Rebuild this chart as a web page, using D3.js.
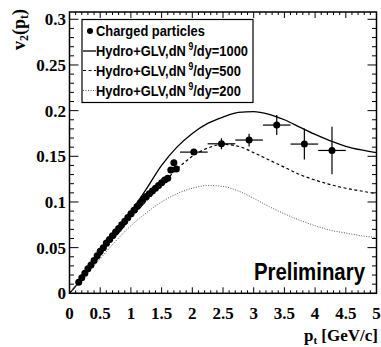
<!DOCTYPE html>
<html><head><meta charset="utf-8">
<script src="https://cdn.jsdelivr.net/npm/d3@7"></script>
<style>body{margin:0;background:#fff}svg{display:block}</style>
</head><body>
<script>
// ---- data ----
const lowPt = [0.15,0.2,0.25,0.3,0.35,0.4,0.45,0.5,0.55,0.6,0.65,0.7,0.75,0.8,0.85,0.9,0.95,1.0,1.05,1.1,1.15,1.2,1.25,1.3,1.35,1.4,1.45,1.5,1.55,1.6,1.65,1.7,1.74];
const lowV2 = [0.012,0.017,0.022,0.027,0.031,0.036,0.041,0.046,0.050,0.055,0.059,0.063,0.067,0.071,0.075,0.079,0.083,0.087,0.091,0.095,0.099,0.103,0.106,0.109,0.112,0.115,0.118,0.121,0.124,0.126,0.135,0.143,0.136];
const hiPt = [2.025,2.475,2.925,3.375,3.825,4.275];
const hiV2 = [0.1546,0.1637,0.1678,0.1842,0.1634,0.1564];
const hiXerr = [0.225,0.225,0.225,0.225,0.225,0.225];
const hiYerr = [0.003,0.006,0.007,0.011,0.017,0.026];
const curvePt = [0,0.25,0.5,0.75,1.0,1.25,1.5,1.75,2.0,2.25,2.5,2.75,3.0,3.25,3.5,3.75,4.0,4.25,4.5,4.75,5.0];
const v2_1000 = [0,0.020,0.042,0.065,0.089,0.114,0.140,0.160,0.175,0.186,0.193,0.198,0.199,0.196,0.190,0.182,0.174,0.167,0.161,0.157,0.154];
const v2_500  = [0,0.020,0.041,0.062,0.082,0.101,0.119,0.136,0.150,0.159,0.163,0.161,0.154,0.146,0.138,0.130,0.124,0.119,0.115,0.112,0.109];
const v2_200  = [0,0.019,0.038,0.057,0.074,0.088,0.100,0.109,0.115,0.118,0.117,0.112,0.104,0.095,0.087,0.080,0.074,0.069,0.066,0.063,0.061];
const xTicks = [0,0.5,1,1.5,2,2.5,3,3.5,4,4.5,5];
const xTickLabels = ["0","0.5","1","1.5","2","2.5","3","3.5","4","4.5","5"];
const yTicks = [0,0.05,0.1,0.15,0.2,0.25,0.3];
const yTickLabels = ["0","0.05","0.1","0.15","0.2","0.25","0.3"];
const legendLabels = ["Charged particles","Hydro+GLV,dN","Hydro+GLV,dN","Hydro+GLV,dN"];
const legendSuffix = ["","/dy=1000","/dy=500","/dy=200"];

// ---- layout ----
const W = 381, H = 347;
const L = 69.5, R = 376.5, T = 12, B = 293.3;
const x = d3.scaleLinear().domain([0,5]).range([L,R]);
const y = d3.scaleLinear().domain([0,0.308]).range([B,T]);

const svg = d3.select("body").append("svg").attr("width",W).attr("height",H);
const serif = "'Liberation Serif','Times New Roman',serif";
const sans = "'Liberation Sans',Arial,Helvetica,sans-serif";

// curves
const styles = [
  {data:v2_1000, dash:null, w:1.3, c:"#000"},
  {data:v2_500, dash:"3,2.5", w:1.2, c:"#000"},
  {data:v2_200, dash:"1,1.5", w:1.0, c:"#555"}
];
const line = d3.line().x(d=>x(d[0])).y(d=>y(d[1])).curve(d3.curveMonotoneX);
styles.forEach(s=>{
  svg.append("path").attr("d", line(curvePt.map((p,i)=>[p,s.data[i]])))
    .attr("fill","none").attr("stroke",s.c).attr("stroke-width",s.w)
    .attr("stroke-dasharray",s.dash);
});

// error bars
const eb = svg.append("g").attr("stroke","#000").attr("stroke-width",1.2);
hiPt.forEach((p,i)=>{
  eb.append("line").attr("x1",x(p-hiXerr[i])).attr("x2",x(p+hiXerr[i])).attr("y1",y(hiV2[i])).attr("y2",y(hiV2[i]));
  eb.append("line").attr("x1",x(p)).attr("x2",x(p)).attr("y1",y(hiV2[i]-hiYerr[i])).attr("y2",y(hiV2[i]+hiYerr[i]));
});
// points
svg.append("g").selectAll("circle").data(lowPt.map((p,i)=>[p,lowV2[i]]).concat(hiPt.map((p,i)=>[p,hiV2[i]])))
  .join("circle").attr("cx",d=>x(d[0])).attr("cy",d=>y(d[1])).attr("r",3.5).attr("fill","#000");

// frame
svg.append("rect").attr("x",L).attr("y",T).attr("width",R-L).attr("height",B-T)
  .attr("fill","none").attr("stroke","#000").attr("stroke-width",1.5);

// ticks
const tk = svg.append("g").attr("stroke","#000").attr("stroke-width",1);
d3.range(0,51).forEach(i=>{
  const v = i/10, major = i%5===0, len = major?6:3;
  tk.append("line").attr("x1",x(v)).attr("x2",x(v)).attr("y1",B).attr("y2",B-len);
  tk.append("line").attr("x1",x(v)).attr("x2",x(v)).attr("y1",T).attr("y2",T+len);
});
d3.range(0,31).forEach(i=>{
  const v = i/100, major = i%5===0, len = major?9:4.5;
  tk.append("line").attr("x1",L).attr("x2",L+len).attr("y1",y(v)).attr("y2",y(v));
  tk.append("line").attr("x1",R).attr("x2",R-len).attr("y1",y(v)).attr("y2",y(v));
});

// tick labels
svg.append("g").selectAll("text").data(xTicks).join("text")
  .attr("x",d=>x(d)).attr("y",319).attr("text-anchor","middle")
  .attr("font-family",serif).attr("font-weight","bold").attr("font-size",17)
  .text((d,i)=>xTickLabels[i]);
svg.append("g").selectAll("text").data(yTicks).join("text")
  .attr("x",66).attr("y",d=>y(d)+6).attr("text-anchor","end")
  .attr("font-family",serif).attr("font-weight","bold").attr("font-size",17)
  .text((d,i)=>yTickLabels[i]);

// axis titles
const xt = svg.append("text").attr("x",378).attr("y",341).attr("text-anchor","end")
  .attr("font-family",serif).attr("font-weight","bold").attr("font-size",17);
xt.append("tspan").text("p");
xt.append("tspan").attr("font-size",11).attr("dy",3).text("t");
xt.append("tspan").attr("dy",-3).text(" [GeV/c]");

const yt = svg.append("text").attr("transform","translate(25,9) rotate(-90)").attr("text-anchor","end")
  .attr("font-family",serif).attr("font-weight","bold").attr("font-size",18);
yt.append("tspan").text("v");
yt.append("tspan").attr("font-size",12).attr("dy",3).text("2");
yt.append("tspan").attr("dy",-3).text("(p");
yt.append("tspan").attr("font-size",12).attr("dy",3).text("t");
yt.append("tspan").attr("dy",-3).text(")");

// legend
const lg = svg.append("g");
lg.append("rect").attr("x",82).attr("y",19.5).attr("width",171).attr("height",83)
  .attr("fill","#fff").attr("stroke","#000").attr("stroke-width",1.2);
const rows = [36,56,75.5,95.5];
lg.append("circle").attr("cx",90).attr("cy",rows[0]-5).attr("r",3).attr("fill","#000");
[1,2,3].forEach(k=>{
  const s = styles[k-1];
  lg.append("line").attr("x1",83).attr("x2",96).attr("y1",rows[k]-5).attr("y2",rows[k]-5)
    .attr("stroke",s.c).attr("stroke-width",s.w).attr("stroke-dasharray",s.dash);
});
legendLabels.forEach((t,k)=>{
  const tx = lg.append("text").attr("transform",`translate(96,${rows[k]}) scale(0.86,1)`)
    .attr("font-family",sans).attr("font-weight","bold").attr("font-size",15);
  tx.append("tspan").text(t);
  if(legendSuffix[k]){
    tx.append("tspan").attr("font-size",10).attr("dx",3).attr("dy",-6).text("9");
    tx.append("tspan").attr("dy",6).text(legendSuffix[k]);
  }
});

// Preliminary
svg.append("text").attr("transform","translate(365,280) scale(0.85,1)").attr("text-anchor","end")
  .attr("font-family",sans).attr("font-weight","bold").attr("font-size",24)
  .text("Preliminary");
</script>
</body></html>
